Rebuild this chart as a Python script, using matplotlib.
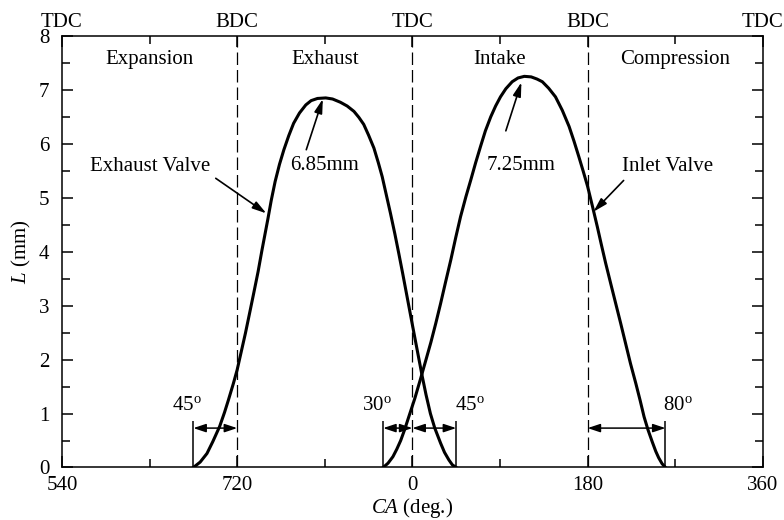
import matplotlib
matplotlib.use("Agg")
import matplotlib.pyplot as plt
import matplotlib.transforms as mtransforms
from matplotlib.ticker import FixedLocator, MultipleLocator

plt.rcParams["font.family"] = "Liberation Serif"
plt.rcParams["mathtext.fontset"] = "custom"
plt.rcParams["mathtext.rm"] = "Liberation Serif"
plt.rcParams["mathtext.it"] = "Liberation Serif:italic"
plt.rcParams["font.size"] = 15

# Crank angle runs 540 -> 1260 continuously, labelled mod 720
tick_ca = [540, 720, 900, 1080, 1260]
tick_labels = ["540", "720", "0", "180", "360"]
dead_centre_ca = [540, 720, 900, 1080, 1260]
dead_centre_names = ["TDC", "BDC", "TDC", "BDC", "TDC"]
stroke_ca = [630, 810, 990, 1170]
stroke_names = ["Expansion", "Exhaust", "Intake", "Compression"]

# Valve lift curves (mm)
exhaust_ca = [675, 682, 689, 695, 702, 707, 711, 716, 720, 724, 728.5, 733, 737,
              741.5, 745.5, 751.5, 755, 759, 763.5, 768, 773, 778, 784, 790.5,
              796, 802.5, 811, 818, 826, 833, 840, 845, 850, 855, 860.5, 865,
              869, 873, 877.5, 882, 886, 890, 894.5, 899, 903, 906.5, 910, 914,
              918.5, 923, 929, 933, 937.5, 941, 945]
exhaust_lift = [0, 0.1, 0.26, 0.48, 0.76, 1.02, 1.25, 1.55, 1.81, 2.13, 2.49, 2.88,
                3.23, 3.63, 4.03, 4.6, 4.95, 5.3, 5.62, 5.89, 6.15, 6.38, 6.57,
                6.72, 6.80, 6.84, 6.85, 6.83, 6.77, 6.70, 6.60, 6.49, 6.36, 6.16,
                5.92, 5.65, 5.39, 5.07, 4.71, 4.33, 3.97, 3.60, 3.17, 2.74, 2.36,
                2.03, 1.7, 1.35, 1.0, 0.73, 0.45, 0.28, 0.14, 0.05, 0]
intake_ca = [870, 875, 880, 884, 888, 892, 896.5, 902.5, 908.5, 914, 919, 924, 929,
             934, 939.5, 944.5, 949.5, 955, 960, 965, 970, 975, 980.5, 985.5,
             990.5, 996, 1002.5, 1008.5, 1015, 1022, 1028, 1033.5, 1040, 1047,
             1054, 1061, 1066, 1071, 1075.5, 1080, 1085, 1090, 1094, 1098.5,
             1104, 1109, 1114, 1119, 1124, 1129.5, 1134, 1138, 1142, 1146.5,
             1150, 1153, 1156.5, 1160]
intake_lift = [0, 0.08, 0.2, 0.34, 0.5, 0.7, 0.95, 1.28, 1.65, 2.0, 2.32, 2.67,
               3.04, 3.43, 3.85, 4.26, 4.65, 5.02, 5.33, 5.65, 5.95, 6.24, 6.50,
               6.70, 6.87, 7.02, 7.15, 7.22, 7.25, 7.24, 7.20, 7.15, 7.03, 6.87,
               6.62, 6.32, 6.05, 5.76, 5.49, 5.21, 4.84, 4.46, 4.14, 3.79, 3.39,
               3.03, 2.67, 2.30, 1.93, 1.56, 1.24, 0.94, 0.70, 0.47, 0.30, 0.18,
               0.07, 0]

# Valve timing: (from, to, label)
timing = [(675, 720, "45"), (870, 900, "30"), (900, 945, "45"), (1080, 1160, "80")]
timing_label_ca = [668, 864, 959, 1173]
open_close_ca = [675, 870, 945, 1160]

fig = plt.figure(figsize=(7.84, 5.2), dpi=100)
ax = fig.add_axes([0.079, 0.101, 0.894, 0.830])

ax.plot(exhaust_ca, exhaust_lift, color="black", lw=2.2, solid_joinstyle="round")
ax.plot(intake_ca, intake_lift, color="black", lw=2.2, solid_joinstyle="round")

for ca in dead_centre_ca[1:-1]:
    ax.axvline(ca, color="black", lw=0.9, linestyle=(0, (10, 4)))

ax.set_xlim(540, 1260)
ax.set_ylim(0, 8)
ax.xaxis.set_major_locator(FixedLocator(tick_ca))
ax.set_xticklabels(tick_labels)
ax.xaxis.set_minor_locator(FixedLocator(stroke_ca))
ax.yaxis.set_major_locator(MultipleLocator(1))
ax.yaxis.set_minor_locator(MultipleLocator(0.5))
ax.tick_params(which="both", direction="in", top=True, right=True, width=1.1,
               colors="black")
ax.tick_params(which="major", length=8)
ax.tick_params(which="minor", length=6)
ax.tick_params(axis="x", pad=6)
ax.tick_params(axis="y", pad=9)
for s in ax.spines.values():
    s.set_linewidth(1.1)

ax.set_xlabel("$CA$ (deg.)", labelpad=1)
ax.set_ylabel("$L$ (mm)", labelpad=4)

top = mtransforms.blended_transform_factory(ax.transData, ax.transAxes)
for ca, name in zip(dead_centre_ca, dead_centre_names):
    ax.text(ca, 1.03, name, transform=top, ha="center", va="center")
for ca, name in zip(stroke_ca, stroke_names):
    ax.text(ca, 7.57, name, ha="center", va="center")

# Valve timing dimension arrows
ax.vlines(open_close_ca, 0, 0.87, color="black", lw=1.1)
for (a, b, lab), lx in zip(timing, timing_label_ca):
    ax.annotate("", xy=(b, 0.73), xytext=(a, 0.73),
                arrowprops=dict(arrowstyle="<|-|>,head_length=0.75,head_width=0.25",
                                mutation_scale=10, color="black", lw=1.1,
                                shrinkA=0, shrinkB=0))
    ax.text(lx, 1.14, lab + r"$^{\rm o}$", ha="center", va="center")

# Callouts
arrow_kw = dict(arrowstyle="-|>,head_length=0.7,head_width=0.2", mutation_scale=12,
                color="black", lw=1.2, shrinkA=0, shrinkB=0)
ax.text(631, 5.57, "Exhaust Valve", ha="center", va="center")
ax.annotate("", xy=(750, 4.71), xytext=(698, 5.36), arrowprops=arrow_kw)
ax.text(810, 5.60, "6.85mm", ha="center", va="center")
ax.annotate("", xy=(808, 6.83), xytext=(791, 5.89), arrowprops=arrow_kw)
ax.text(1012, 5.59, "7.25mm", ha="center", va="center")
ax.annotate("", xy=(1012, 7.14), xytext=(996, 6.24), arrowprops=arrow_kw)
ax.text(1162, 5.57, "Inlet Valve", ha="center", va="center")
ax.annotate("", xy=(1086, 4.74), xytext=(1117, 5.32), arrowprops=arrow_kw)

fig.savefig("out.png", dpi=100)
